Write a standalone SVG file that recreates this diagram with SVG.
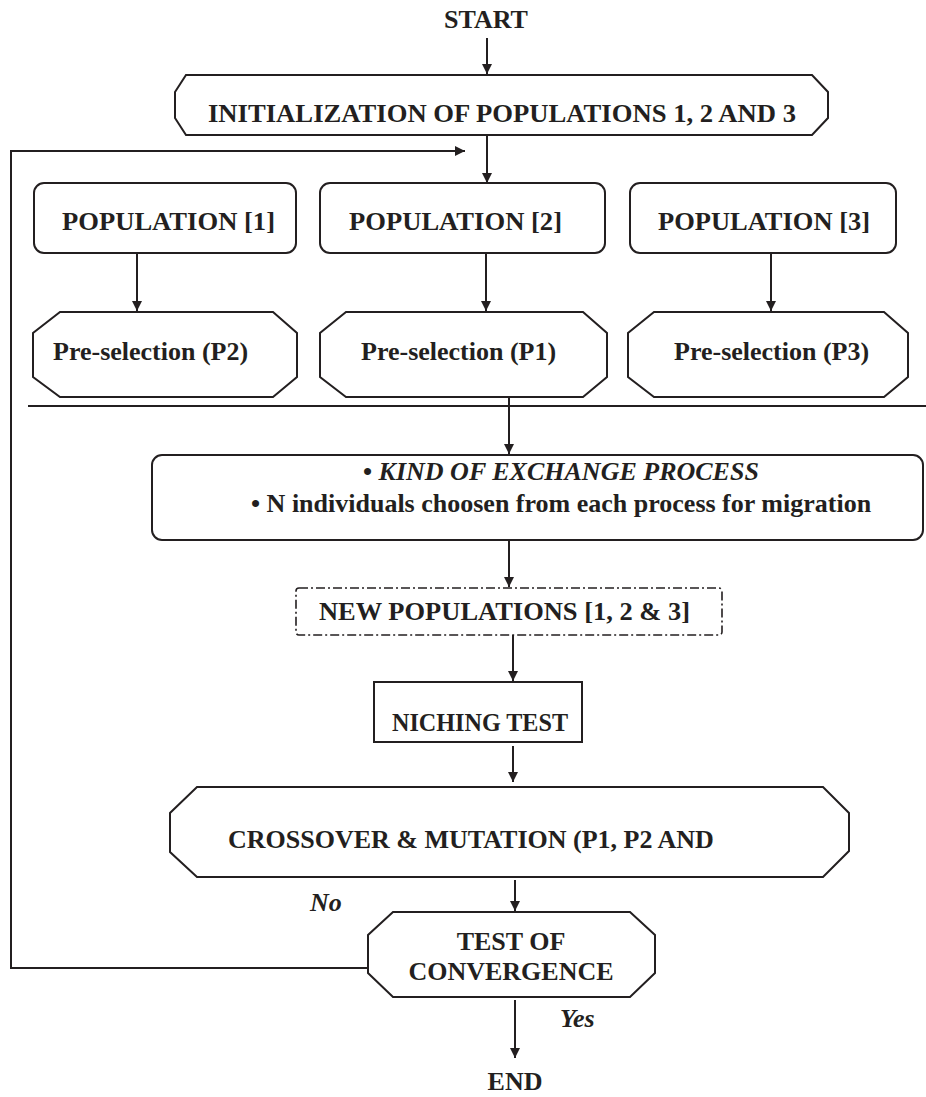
<svg xmlns="http://www.w3.org/2000/svg" width="926" height="1097" viewBox="0 0 926 1097">
<style>
.box{fill:#fff;stroke:#231f20;stroke-width:2}
.dash{fill:#fff;stroke:#231f20;stroke-width:1.6;stroke-dasharray:9 3 2 3}
.ln{fill:none;stroke:#231f20;stroke-width:2}
.t{font-family:"Liberation Serif","Times New Roman",serif;font-weight:bold;font-size:26px;fill:#231f20}
.i{font-style:italic}
.m{text-anchor:middle}
</style>
<defs>
<marker id="ah" viewBox="0 0 10 10" refX="10" refY="5" markerWidth="10" markerHeight="10" markerUnits="userSpaceOnUse" orient="auto">
<path d="M0,0 L10,5 L0,10 z" fill="#231f20"/>
</marker>
</defs>
<rect width="926" height="1097" fill="#fff"/>
<g id="connectors">
<line class="ln" x1="487" y1="38" x2="487" y2="74" marker-end="url(#ah)"/>
<line class="ln" x1="487" y1="135" x2="487" y2="183" marker-end="url(#ah)"/>
<polyline class="ln" points="368,968 11,968 11,151 465,151" marker-end="url(#ah)"/>
<line class="ln" x1="137" y1="253" x2="137" y2="311" marker-end="url(#ah)"/>
<line class="ln" x1="486" y1="253" x2="486" y2="311" marker-end="url(#ah)"/>
<line class="ln" x1="771" y1="253" x2="771" y2="311" marker-end="url(#ah)"/>
<line class="ln" x1="28" y1="406" x2="926" y2="406" stroke-width="2.4"/>
<line class="ln" x1="509" y1="397" x2="509" y2="454" marker-end="url(#ah)"/>
<line class="ln" x1="509" y1="540" x2="509" y2="587" marker-end="url(#ah)"/>
<line class="ln" x1="513" y1="635" x2="513" y2="681" marker-end="url(#ah)"/>
<line class="ln" x1="513" y1="746" x2="513" y2="782" marker-end="url(#ah)"/>
<line class="ln" x1="515" y1="880" x2="515" y2="911" marker-end="url(#ah)"/>
<line class="ln" x1="515" y1="1000" x2="515" y2="1058" marker-end="url(#ah)"/>
</g>
<g id="start"><text class="t m" x="486" y="28" font-size="25">START</text></g>
<g id="init">
<polygon class="box" points="186,75 812,75 828,92 828,118 812,135 186,135 175,118 175,92"/>
<text class="t" x="208" y="122" textLength="588" lengthAdjust="spacingAndGlyphs">INITIALIZATION OF POPULATIONS 1, 2 AND 3</text>
</g>
<g id="pop1"><rect class="box" x="34" y="183" width="262" height="70" rx="10"/><text class="t" x="62" y="230" textLength="213" lengthAdjust="spacingAndGlyphs">POPULATION [1]</text></g>
<g id="pop2"><rect class="box" x="320" y="183" width="285" height="70" rx="10"/><text class="t" x="349" y="230" textLength="213" lengthAdjust="spacingAndGlyphs">POPULATION [2]</text></g>
<g id="pop3"><rect class="box" x="630" y="183" width="266" height="70" rx="10"/><text class="t" x="658" y="230" textLength="212" lengthAdjust="spacingAndGlyphs">POPULATION [3]</text></g>
<g id="pre2"><polygon class="box" points="60,312 273,312 297,333 297,377 273,397 60,397 33,377 33,333"/><text class="t" x="53" y="360">Pre-selection (P2)</text></g>
<g id="pre1"><polygon class="box" points="346,312 583,312 607,333 607,377 583,397 346,397 320,377 320,333"/><text class="t" x="361" y="360">Pre-selection (P1)</text></g>
<g id="pre3"><polygon class="box" points="654,312 884,312 908,333 908,377 884,397 654,397 628,377 628,333"/><text class="t" x="674" y="360">Pre-selection (P3)</text></g>
<g id="exchange">
<rect class="box" x="152" y="455" width="771" height="85" rx="10"/>
<text class="t" x="363" y="480">• <tspan class="i">KIND OF EXCHANGE PROCESS</tspan></text>
<text class="t" x="251" y="512">• N individuals choosen from each process for migration</text>
</g>
<g id="newpop"><rect class="dash" x="296" y="588" width="426" height="47" rx="3"/><text class="t" x="319" y="620" font-size="25" textLength="371" lengthAdjust="spacingAndGlyphs">NEW POPULATIONS [1, 2 &amp; 3]</text></g>
<g id="niching"><rect class="box" x="374" y="682" width="208" height="60"/><text class="t" x="392" y="731" font-size="24" textLength="176" lengthAdjust="spacingAndGlyphs">NICHING TEST</text></g>
<g id="crossover"><polygon class="box" points="197,787 823,787 849,813 849,851 823,877 197,877 170,852 170,813"/><text class="t" x="228" y="848">CROSSOVER &amp; MUTATION (P1, P2 AND</text></g>
<g id="convergence"><polygon class="box" points="393,912 630,912 655,935 655,973 630,997 393,997 368,973 368,935"/><text class="t m" x="511" y="950">TEST OF</text><text class="t m" x="511" y="980">CONVERGENCE</text></g>
<g id="labels"><text class="t i" x="310" y="911" font-size="24">No</text><text class="t i" x="560" y="1027" font-size="24">Yes</text></g>
<g id="end"><text class="t m" x="515" y="1090">END</text></g>
</svg>
